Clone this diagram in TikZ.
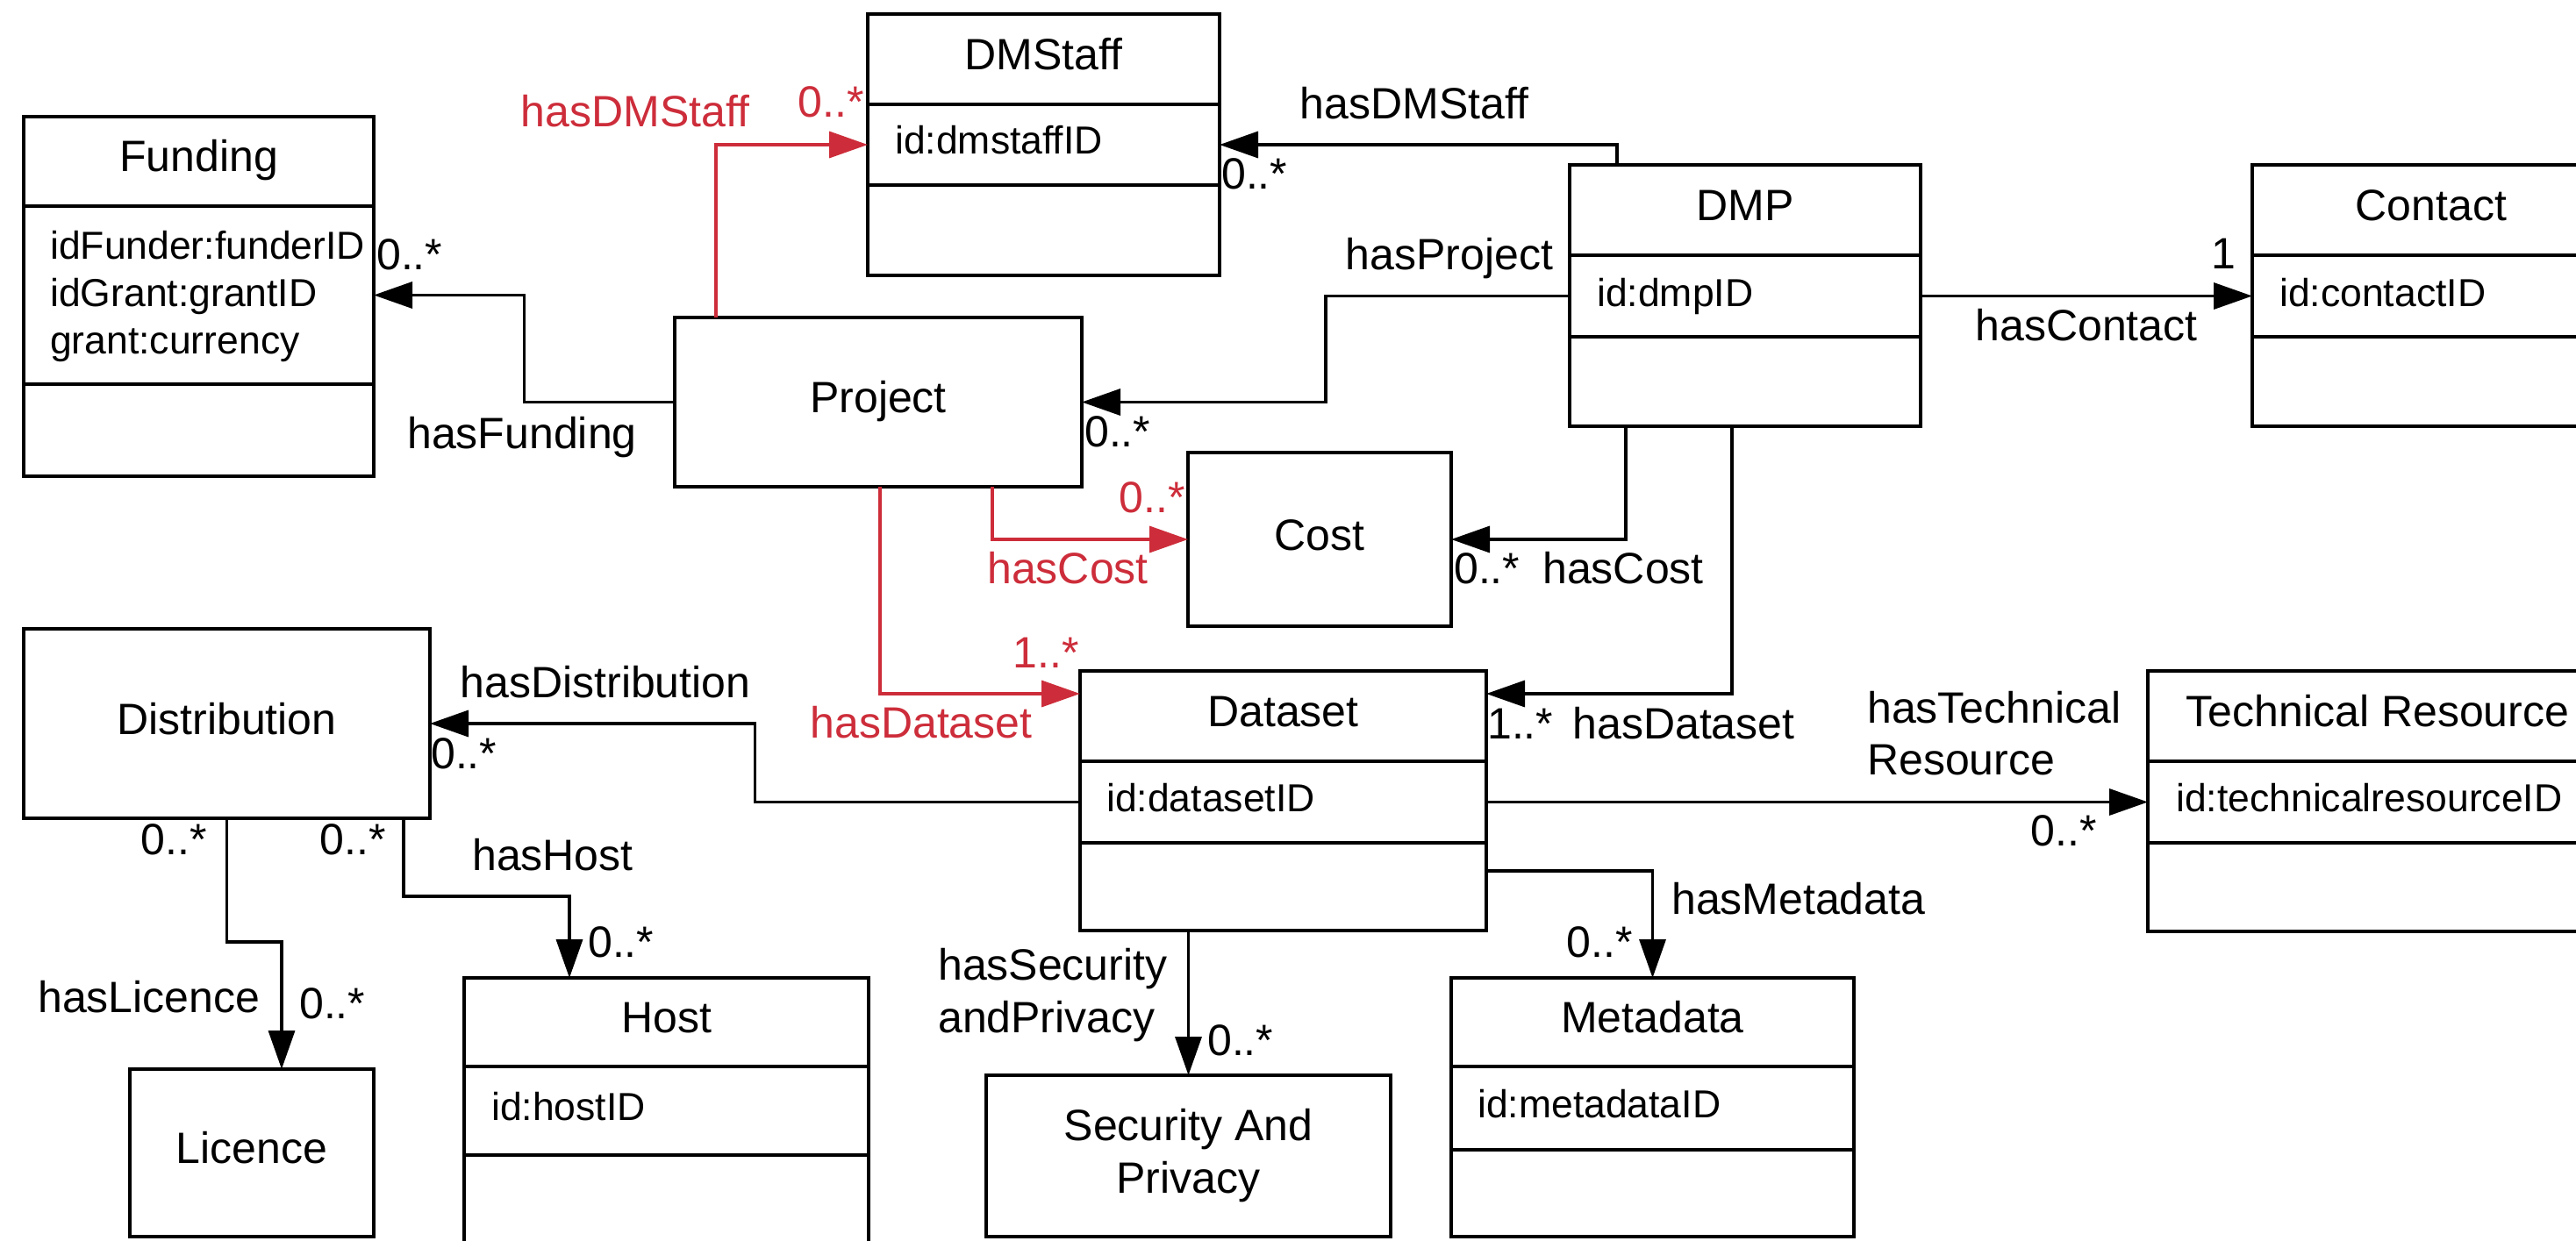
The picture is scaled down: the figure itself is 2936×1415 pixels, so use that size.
\documentclass[tikz,border=0pt]{standalone}
\usepackage{fontspec}
\setmainfont{Liberation Sans}
\usetikzlibrary{arrows.meta,calc}
\definecolor{relred}{RGB}{205,45,58}
% class box with three compartments: name, L, R, T, D1, D2, B, title
\newcommand{\umlclassbox}[8]{%
  \node[ctitle, minimum width={(#3-#2)*1pt}, minimum height={(#5-#4)*1pt}] (#1-t) at ({(#2+#3)/2},{(#4+#5)/2}) {#8};
  \node[box, minimum width={(#3-#2)*1pt}, minimum height={(#6-#5)*1pt}] (#1-a) at ({(#2+#3)/2},{(#5+#6)/2}) {};
  \node[box, minimum width={(#3-#2)*1pt}, minimum height={(#7-#6)*1pt}] (#1-o) at ({(#2+#3)/2},{(#6+#7)/2}) {};
}
\begin{document}
\begin{tikzpicture}[x=1pt,y=-1pt,
  conn/.style={line width=3.5pt},
  arr/.style={conn,-{Triangle[length=44pt,width=30pt]}},
  redarr/.style={arr,draw=relred},
  box/.style={draw,line width=4pt,inner sep=0pt,outer sep=0pt},
  ctitle/.style={box,font=\fontsize{50}{60}\selectfont,text height=36pt,text depth=12pt},
  attr/.style={font=\fontsize{44.5}{54}\selectfont,inner sep=0pt,anchor=base west},
  lbl/.style={font=\fontsize{50}{60}\selectfont,inner sep=0pt,anchor=base},
  lblw/.style={lbl,anchor=base west},
  lble/.style={lbl,anchor=base east},
  redlbl/.style={text=relred}]
\useasboundingbox (0,0) rectangle (2936,1415);
\fill[white] (0,0) rectangle (2936,1415);
\clip (0,0) rectangle (2936,1415);

% ---- class boxes
\umlclassbox{fund}{27}{426}{133}{235}{438}{543}{Funding}
\umlclassbox{dms}{989}{1390}{16}{119}{211}{314}{DMStaff}
\umlclassbox{dmp}{1789}{2189}{188}{291}{384}{486}{DMP}
\umlclassbox{cont}{2567}{2975}{188}{291}{384}{486}{Contact}
\umlclassbox{dset}{1231}{1694}{765}{868}{961}{1061}{Dataset}
\umlclassbox{tres}{2448}{2972}{765}{868}{961}{1062}{Technical Resource}
\umlclassbox{host}{529}{990}{1115}{1216}{1317}{1430}{Host}
\umlclassbox{meta}{1654}{2113}{1115}{1216}{1311}{1410}{Metadata}

% ---- simple boxes
\node[ctitle, minimum width=464pt, minimum height=193pt] (proj) at (1001,458.5) {Project};
\node[ctitle, minimum width=300pt, minimum height=198pt] (cost) at (1504,615) {Cost};
\node[ctitle, minimum width=463pt, minimum height=216pt] (dist) at (258.5,825) {Distribution};
\node[ctitle, minimum width=278pt, minimum height=191pt] (lic) at (287,1314.5) {Licence};
\node[box, font=\fontsize{50}{60}\selectfont, align=center, minimum width=461pt, minimum height=184pt] (sp) at (1354.5,1318) {Security And\\Privacy};

% ---- attributes
\node[attr] (fund-a1) at (57,295) {idFunder:funderID};
\node[attr] (fund-a2) at (57,349) {idGrant:grantID};
\node[attr] (fund-a3) at (57,403) {grant:currency};
\node[attr] (dms-at) at (1020,176) {id:dmstaffID};
\node[attr] (dmp-at) at (1820,349) {id:dmpID};
\node[attr] (cont-at) at (2598,349) {id:contactID};
\node[attr] (dset-at) at (1261,925) {id:datasetID};
\node[attr] (tres-at) at (2480,925) {id:technicalresourceID};
\node[attr] (host-at) at (560,1277) {id:hostID};
\node[attr] (meta-at) at (1684,1274) {id:metadataID};

% ---- connectors
\draw[redarr] ([xshift=47pt]proj.north west) |- (dms-a.west);
\draw[arr] ([xshift=54pt]dmp-t.north west) |- (dms-a.east);
\draw[arr] (proj.west) -| ($(proj.west)!.5!(fund-a.east)$) |- (fund-a.east);
\draw[arr] (dmp-a.west) -| ($(dmp-a.west)!.5!(proj.east)$) |- (proj.east);
\draw[arr] (dmp-a.east) -- (cont-a.west);
\draw[arr] ([xshift=64pt]dmp-o.south west) |- (cost.east);
\draw[arr] ([xshift=185pt]dmp-o.south west) |- ([yshift=-26pt]dset-t.north east);
\draw[redarr] ([xshift=362pt]proj.south west) |- (cost.west);
\draw[redarr] ([xshift=234pt]proj.south west) |- ([yshift=-26pt]dset-t.north west);
\draw[arr] (dset-a.west) -| ($(dset-a.west)!.5!(dist.east)$) |- (dist.east);
\draw[arr] (dset-a.east) -- (tres-a.west);
\draw[arr] ([yshift=-32pt]dset-o.north east) -| (meta-t.north);
\draw[arr] (sp.north |- dset-o.south) -- (sp.north);
\draw[arr] (dist.south) -- ++(0,141) -| ([xshift=34pt]lic.north);
\draw[arr] ([xshift=-30pt]dist.south east) -- ++(0,89) -| ([xshift=-110.5pt]host-t.north);

% ---- labels
\node[lbl,redlbl] (l-rdms) at (724,145) {hasDMStaff};
\node[lble,redlbl] (m-rdms) at (985,134) {0..*};
\node[lbl] (l-dms) at (1612,136) {hasDMStaff};
\node[lblw] (m-dms) at (1392,216) {0..*};
\node[lblw] (m-fund) at (429,308) {0..*};
\node[lbl] (l-fund) at (595,511) {hasFunding};
\node[lbl] (l-proj) at (1652,308) {hasProject};
\node[lblw] (m-proj) at (1236,509) {0..*};
\node[lble,redlbl] (m-rcost) at (1351,584) {0..*};
\node[lbl] (m-cont) at (2534,306) {1};
\node[lbl] (l-cont) at (2378,388) {hasContact};
\node[lbl,redlbl] (l-rcost) at (1217,665) {hasCost};
\node[lblw] (m-cost) at (1657,665) {0..*};
\node[lbl] (l-cost) at (1850,665) {hasCost};
\node[lble,redlbl] (m-rdset) at (1230,761) {1..*};
\node[lbl,redlbl] (l-rdset) at (1050,841) {hasDataset};
\node[lblw] (m-dset) at (1695,842) {1..*};
\node[lbl] (l-dset) at (1919,842) {hasDataset};
\node[lbl] (l-dist) at (690,795) {hasDistribution};
\node[lblw] (m-dist) at (491,876) {0..*};
\node[lblw] (l-tres1) at (2128,824) {hasTechnical};
\node[lblw] (l-tres2) at (2128,883) {Resource};
\node[lble] (m-tres) at (2390,964) {0..*};
\node[lblw] (l-meta) at (1905,1042) {hasMetadata};
\node[lble] (m-meta) at (1861,1091) {0..*};
\node[lblw] (l-sp1) at (1069,1117) {hasSecurity};
\node[lblw] (l-sp2) at (1069,1177) {andPrivacy};
\node[lblw] (m-sp) at (1376,1203) {0..*};
\node[lble] (m-dist2) at (236,974) {0..*};
\node[lble] (m-dist3) at (440,974) {0..*};
\node[lbl] (l-host) at (630,992) {hasHost};
\node[lblw] (m-host) at (670,1091) {0..*};
\node[lblw] (l-lic) at (43,1154) {hasLicence};
\node[lblw] (m-lic) at (341,1161) {0..*};
\end{tikzpicture}
\end{document}
